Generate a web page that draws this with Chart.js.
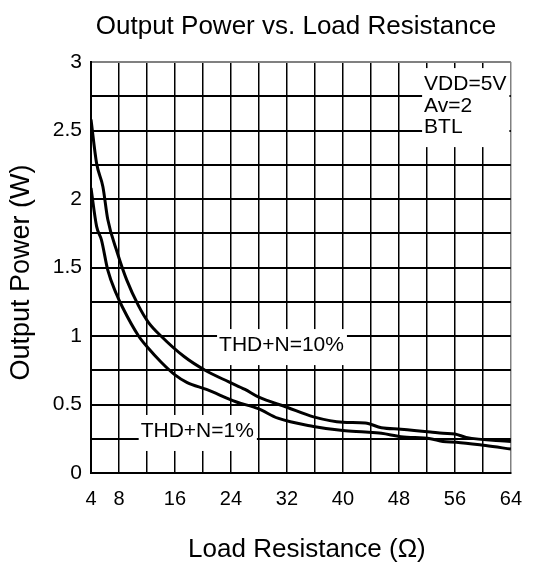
<!DOCTYPE html>
<html>
<head>
<meta charset="utf-8">
<script src="https://cdn.jsdelivr.net/npm/chart.js@4.4.0/dist/chart.umd.min.js"></script>
<style>
  html, body { margin: 0; padding: 0; background: #fff; }
  #wrap { width: 536px; height: 564px; }
</style>
</head>
<body>
<div id="wrap"><canvas id="powerChart" width="536" height="564"></canvas></div>
<script>
// THD+N = 10% curve (load in ohm, power in W)
var load10 = [4, 4.8, 5.7, 6.4, 7.75, 9.1, 10.8, 12.2, 14, 17.3, 20.3, 23.7, 26, 27.9, 32, 35.8, 40, 43.2, 45.5, 48.3, 52.5, 54.3, 56, 57.6, 64];
var power10 = [2.58, 2.26, 2.09, 1.85, 1.61, 1.41, 1.22, 1.10, 1.00, 0.85, 0.75, 0.665, 0.61, 0.555, 0.48, 0.41, 0.37, 0.365, 0.33, 0.32, 0.30, 0.29, 0.285, 0.26, 0.23];

// THD+N = 1% curve
var load1 = [4, 4.8, 5.5, 6.4, 7.6, 8.5, 10.8, 12.2, 14, 15.9, 17.75, 20.5, 24.7, 27.9, 30.7, 35.8, 40, 43.2, 45.5, 48.3, 52.5, 54.3, 56.2, 60.4, 64];
var power1 = [2.08, 1.80, 1.70, 1.48, 1.31, 1.21, 1.00, 0.91, 0.81, 0.72, 0.66, 0.61, 0.52, 0.47, 0.40, 0.34, 0.31, 0.30, 0.29, 0.265, 0.25, 0.23, 0.225, 0.20, 0.175];

// labelled ticks (grid is every 4 ohm / 0.25 W)
var xTickLabels = [4, 8, 16, 24, 32, 40, 48, 56, 64];
var yTickLabels = [0, 0.5, 1, 1.5, 2, 2.5, 3];

var chartTitle = 'Output Power vs. Load Resistance';
var xTitle = 'Load Resistance (\u03A9)';
var yTitle = 'Output Power (W)';

// text notes placed in data units (left edge, first baseline)
var notes = [
  { lines: ['VDD=5V', 'Av=2', 'BTL'], x: 51.6, y: 2.795 },
  { lines: ['THD+N=10%'], x: 22.3, y: 0.89 },
  { lines: ['THD+N=1%'], x: 11.1, y: 0.263 }
];

var FONT = "'Liberation Sans', Arial, sans-serif";

function toPoints(xs, ys) {
  return xs.map(function (x, i) { return { x: x, y: ys[i] }; });
}

var textPlugin = {
  id: 'textPlugin',
  // white boxed notes go over the grid, under the curves
  beforeDatasetsDraw: function (chart) {
    var ctx = chart.ctx, xs = chart.scales.x, ys = chart.scales.y;
    ctx.save();
    ctx.font = '21px ' + FONT;
    ctx.textBaseline = 'alphabetic';
    ctx.textAlign = 'left';
    notes.forEach(function (n) {
      var px = xs.getPixelForValue(n.x), py = ys.getPixelForValue(n.y);
      var lh = 21.5;
      var w = 0;
      n.lines.forEach(function (l) { w = Math.max(w, ctx.measureText(l).width); });
      var top = py - 22, bottom = py + lh * (n.lines.length - 1) + 14;
      ctx.fillStyle = '#fff';
      ctx.fillRect(px - 2, top, w + 5, bottom - top);
      ctx.fillStyle = '#000';
      n.lines.forEach(function (l, i) { ctx.fillText(l, px, py + i * lh); });
    });
    ctx.restore();
  },
  afterDraw: function (chart) {
    var ctx = chart.ctx, a = chart.chartArea;
    var cx = (a.left + a.right) / 2, cy = (a.top + a.bottom) / 2;
    ctx.save();
    ctx.fillStyle = '#000';
    ctx.font = '26px ' + FONT;
    ctx.textAlign = 'center';
    ctx.textBaseline = 'alphabetic';
    ctx.fillText(chartTitle, cx - 5, 34);
    ctx.fillText(xTitle, cx + 6, 557);
    ctx.font = '27px ' + FONT;
    ctx.translate(22, cy + 5);
    ctx.rotate(-Math.PI / 2);
    ctx.textBaseline = 'middle';
    ctx.fillText(yTitle, 0, 0);
    ctx.restore();
  }
};

var ctx = document.getElementById('powerChart').getContext('2d');
var powerChart = new Chart(ctx, {
  type: 'scatter',
  data: {
    datasets: [{
      label: 'THD+N=10%',
      data: toPoints(load10, power10),
      showLine: true,
      borderColor: '#000',
      borderWidth: 3,
      pointRadius: 0,
      cubicInterpolationMode: 'monotone'
    }, {
      label: 'THD+N=1%',
      data: toPoints(load1, power1),
      showLine: true,
      borderColor: '#000',
      borderWidth: 3,
      pointRadius: 0,
      cubicInterpolationMode: 'monotone'
    }]
  },
  options: {
    responsive: false,
    animation: false,
    devicePixelRatio: 1,
    layout: { autoPadding: false, padding: { top: 62, right: 13, bottom: 0, left: 0 } },
    plugins: {
      legend: { display: false },
      tooltip: { enabled: false },
      title: { display: false }
    },
    scales: {
      x: {
        type: 'linear',
        min: 4,
        max: 64,
        afterFit: function (s) { s.height = 91; },
        border: { color: '#000', width: 2 },
        grid: {
          drawTicks: false,
          lineWidth: 1.5,
          color: function (c) { return c.tick && c.tick.value === 64 ? '#808080' : '#000'; }
        },
        ticks: {
          stepSize: 4,
          autoSkip: false,
          maxRotation: 0,
          padding: 14,
          color: '#000',
          font: { family: FONT, size: 20 },
          callback: function (v) { return xTickLabels.indexOf(v) >= 0 ? String(v) : ''; }
        }
      },
      y: {
        min: 0,
        max: 3,
        afterFit: function (s) { s.width = 91; },
        border: { color: '#000', width: 2 },
        grid: {
          drawTicks: false,
          lineWidth: 2,
          color: function (c) { return c.tick && c.tick.value === 3 ? '#808080' : '#000'; }
        },
        ticks: {
          stepSize: 0.25,
          autoSkip: false,
          padding: 9,
          color: '#000',
          font: { family: FONT, size: 21 },
          callback: function (v) { return yTickLabels.indexOf(v) >= 0 ? String(v) : ''; }
        }
      }
    }
  },
  plugins: [textPlugin]
});
</script>
</body>
</html>
